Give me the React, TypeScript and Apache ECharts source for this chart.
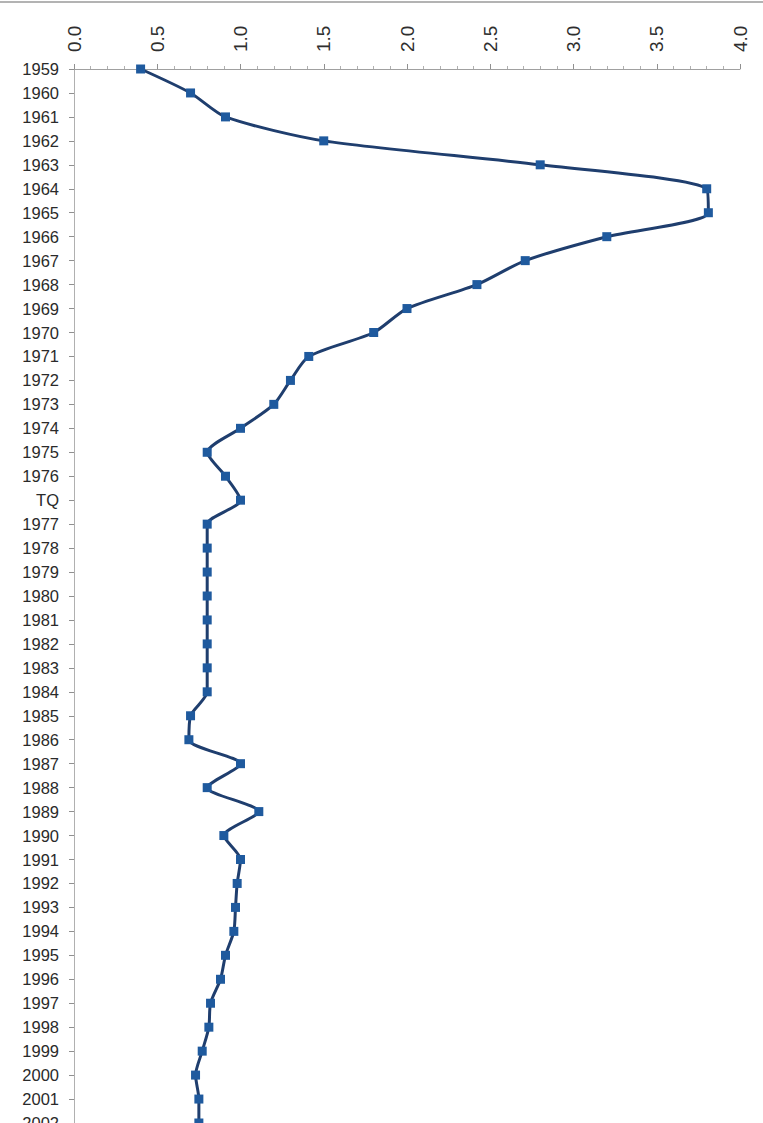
import React, { useEffect, useRef } from "react";
import * as echarts from "echarts";

const categories = [
  "1959", "1960", "1961", "1962", "1963", "1964", "1965", "1966", "1967", "1968",
  "1969", "1970", "1971", "1972", "1973", "1974", "1975", "1976", "TQ", "1977",
  "1978", "1979", "1980", "1981", "1982", "1983", "1984", "1985", "1986", "1987",
  "1988", "1989", "1990", "1991", "1992", "1993", "1994", "1995", "1996", "1997",
  "1998", "1999", "2000", "2001", "2002",
];

const values = [
  0.40, 0.70, 0.91, 1.50, 2.80, 3.80, 3.81, 3.20, 2.71, 2.42,
  2.00, 1.80, 1.41, 1.30, 1.20, 1.00, 0.80, 0.91, 1.00, 0.80,
  0.80, 0.80, 0.80, 0.80, 0.80, 0.80, 0.80, 0.70, 0.69, 1.00,
  0.80, 1.11, 0.90, 1.00, 0.98, 0.97, 0.96, 0.91, 0.88, 0.82,
  0.81, 0.77, 0.73, 0.75, 0.75,
];

const valueMin = 0;
const valueMax = 4;
const valueInterval = 0.5;

export default function App() {
  const ref = useRef<HTMLDivElement>(null);

  useEffect(() => {
    if (!ref.current) return;
    const chart = echarts.init(ref.current, undefined, { renderer: "svg" });
    chart.setOption({
      animation: false,
      backgroundColor: "#ffffff",
      grid: { left: 74, right: 23, top: 69, bottom: 37, containLabel: false },
      graphic: [
        {
          type: "line",
          shape: { x1: 0, y1: 2, x2: 763, y2: 2 },
          style: { stroke: "#9a9a9a", lineWidth: 1.5 },
        },
      ],
      xAxis: {
        type: "value",
        position: "top",
        min: valueMin,
        max: valueMax,
        interval: valueInterval,
        axisLine: { show: true, lineStyle: { color: "#a0a0a0", width: 1 } },
        axisTick: { show: true, length: 5, lineStyle: { color: "#909090" } },
        minorTick: { show: true, splitNumber: 5, length: 3, lineStyle: { color: "#b0b0b0" } },
        splitLine: { show: false },
        axisLabel: {
          rotate: -90,
          margin: 17,
          fontSize: 19,
          fontFamily: "Liberation Sans, Arial, sans-serif",
          color: "#2e2e2e",
          formatter: (v: number) => v.toFixed(1),
        },
      },
      yAxis: {
        type: "category",
        data: categories,
        inverse: true,
        boundaryGap: false,
        axisLine: { show: true, lineStyle: { color: "#b0b0b0", width: 1 } },
        axisTick: { show: true, length: 5, alignWithLabel: true, lineStyle: { color: "#909090" } },
        splitLine: { show: false },
        axisLabel: {
          margin: 15,
          fontSize: 16.5,
          fontFamily: "Liberation Sans, Arial, sans-serif",
          color: "#2a2a2a",
          interval: 0,
        },
      },
      series: [
        {
          type: "line",
          data: values,
          smooth: 0.25,
          symbol: "rect",
          symbolSize: 9,
          lineStyle: { color: "#1f3e6e", width: 3 },
          itemStyle: { color: "#1f5a9e" },
        },
      ],
    });
    return () => chart.dispose();
  }, []);

  return (
    <div style={{ position: "fixed", left: 0, top: 0, width: 763, height: 1123, overflow: "hidden", background: "#fff" }}>
      <div ref={ref} style={{ width: 763, height: 1160 }} />
    </div>
  );
}
